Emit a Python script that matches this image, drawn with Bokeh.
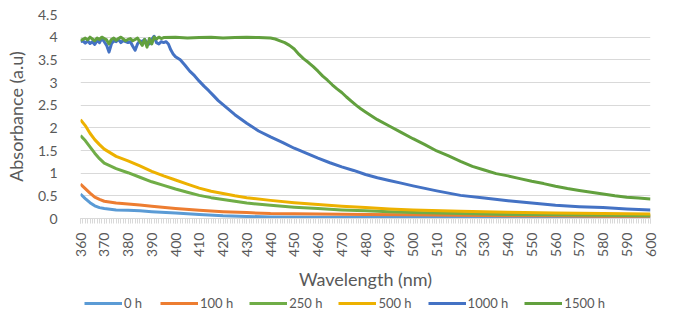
import math
from bokeh.plotting import figure
from bokeh.layouts import column
from bokeh.models import Range1d, FixedTicker, Legend, LegendItem, CustomJSTickFormatter
from bokeh.embed import file_html
from bokeh.resources import INLINE

# ---------------- data ----------------
wl_0h = [360, 362, 364, 366, 368, 370, 375, 380, 385, 390, 400, 410, 420, 430, 440,
         460, 480, 500, 520, 540, 560, 580, 600]
abs_0h = [0.54, 0.44, 0.35, 0.28, 0.24, 0.22, 0.19, 0.18, 0.17, 0.15, 0.12, 0.09, 0.06, 0.045, 0.035,
          0.03, 0.025, 0.02, 0.02, 0.015, 0.015, 0.01, 0.01]

wl_100h = [360, 362, 364, 366, 368, 370, 375, 380, 385, 390, 400, 410, 420, 430, 440,
           460, 480, 500, 520, 540, 560, 580, 600]
abs_100h = [0.76, 0.66, 0.56, 0.47, 0.42, 0.38, 0.34, 0.32, 0.30, 0.27, 0.22, 0.18, 0.15, 0.13, 0.11,
            0.10, 0.09, 0.08, 0.07, 0.06, 0.06, 0.05, 0.05]

wl_250h = [360, 362, 364, 366, 368, 370, 375, 380, 385, 390, 395, 400, 405, 410, 415, 420, 425, 430,
           440, 450, 460, 470, 480, 490, 500, 520, 540, 560, 580, 600]
abs_250h = [1.83, 1.72, 1.58, 1.44, 1.32, 1.22, 1.10, 1.01, 0.91, 0.81, 0.73, 0.65, 0.58, 0.51, 0.46,
            0.42, 0.38, 0.34, 0.29, 0.25, 0.22, 0.19, 0.17, 0.15, 0.13, 0.11, 0.09, 0.08, 0.07, 0.06]

wl_500h = [360, 362, 364, 366, 368, 370, 375, 380, 385, 390, 395, 400, 405, 410, 415, 420, 425, 430,
           440, 450, 460, 470, 480, 490, 500, 520, 540, 560, 580, 600]
abs_500h = [2.18, 2.05, 1.88, 1.74, 1.63, 1.53, 1.37, 1.27, 1.16, 1.04, 0.94, 0.85, 0.76, 0.67, 0.60,
            0.55, 0.50, 0.46, 0.40, 0.35, 0.31, 0.27, 0.24, 0.21, 0.19, 0.16, 0.14, 0.12, 0.11, 0.10]

wl_1000h = list(range(360, 400)) + [400, 402, 404, 406, 408, 410, 412, 414, 416, 418, 420, 425, 430,
                                    435, 440, 445, 450, 455, 460, 465, 470, 475, 480, 485, 490, 495,
                                    500, 510, 520, 530, 540, 550, 560, 570, 580, 590, 600]
abs_1000h = [3.90, 3.92, 3.87, 3.92, 3.86, 3.90, 3.84, 3.93, 3.88, 3.97,
             3.90, 3.82, 3.67, 3.85, 3.92, 3.90, 3.95, 3.88, 3.93, 3.90,
             3.88, 3.90, 3.80, 3.71, 3.85, 3.92, 3.90, 3.95, 3.88, 3.85,
             3.95, 4.02, 3.88, 3.85, 3.90, 3.88, 3.90, 3.85, 3.72, 3.63,
             3.57, 3.50, 3.38, 3.25, 3.15, 3.03, 2.92, 2.82, 2.71, 2.60, 2.51, 2.29, 2.10,
             1.93, 1.80, 1.68, 1.55, 1.44, 1.33, 1.23, 1.14, 1.06, 0.97, 0.90, 0.84, 0.78,
             0.72, 0.61, 0.51, 0.45, 0.39, 0.34, 0.29, 0.26, 0.24, 0.21, 0.19]

wl_1500h = list(range(360, 396)) + [400, 405, 410, 415, 420, 425, 430, 435, 440, 442, 444, 446, 448,
                                    450, 452, 454, 456, 458, 460, 462, 464, 466, 468, 470, 472, 474,
                                    476, 478, 480, 485, 490, 495, 500, 505, 510, 515, 520, 525, 530,
                                    535, 540, 545, 550, 555, 560, 565, 570, 575, 580, 585, 590, 595, 600]
abs_1500h = [3.93, 3.95, 3.98, 3.94, 4.00, 3.96, 3.92, 3.98, 3.95, 4.00,
             3.97, 3.94, 3.85, 3.95, 3.98, 3.93, 3.97, 4.00, 3.96, 3.92,
             3.95, 3.97, 3.92, 3.95, 3.98, 3.90, 3.82, 3.95, 3.78, 3.97,
             3.85, 4.00, 3.96, 4.00, 3.97, 3.99,
             4.00, 3.98, 3.99, 4.00, 3.98, 3.99, 4.00, 3.99, 3.98, 3.96, 3.92, 3.88, 3.82,
             3.74, 3.62, 3.52, 3.44, 3.35, 3.25, 3.14, 3.05, 2.95, 2.86, 2.78, 2.68, 2.59,
             2.50, 2.42, 2.35, 2.18, 2.04, 1.90, 1.76, 1.63, 1.49, 1.38, 1.26, 1.15, 1.07,
             0.99, 0.94, 0.88, 0.82, 0.77, 0.71, 0.66, 0.62, 0.58, 0.54, 0.50, 0.47, 0.45, 0.43]

series_names = ["0 h", "100 h", "250 h", "500 h", "1000 h", "1500 h"]
series_x = [wl_0h, wl_100h, wl_250h, wl_500h, wl_1000h, wl_1500h]
series_y = [abs_0h, abs_100h, abs_250h, abs_500h, abs_1000h, abs_1500h]
series_colors = ["#5B9BD5", "#ED7D31", "#70AD47", "#EDB100", "#4472C4", "#62A03E"]

x_major_ticks = list(range(360, 601, 10))
x_minor_ticks = list(range(360, 601, 1))
y_ticks = [0, 0.5, 1, 1.5, 2, 2.5, 3, 3.5, 4, 4.5]

FONT = "Lato"
TXT = "#595959"
GRID = "#D9D9D9"

p = figure(width=659, height=292, output_backend="svg", toolbar_location=None,
           x_range=Range1d(360, 600), y_range=Range1d(0, 4.5),
           min_border_left=80, min_border_right=9, min_border_top=14, min_border_bottom=68)
p.outline_line_color = None
p.background_fill_color = "white"

for xs, ys, c in zip(series_x, series_y, series_colors):
    p.line(xs, ys, line_color=c, line_width=3, line_join="round")

# x axis
xa = p.xaxis[0]
xa.ticker = FixedTicker(ticks=x_major_ticks, minor_ticks=x_minor_ticks)
xa.axis_line_color = GRID
xa.major_tick_line_color = GRID
xa.minor_tick_line_color = GRID
xa.major_tick_in = 0
xa.minor_tick_in = 0
xa.major_tick_out = 5
xa.minor_tick_out = 5
xa.major_label_orientation = math.pi / 2
xa.major_label_standoff = 9
xa.major_label_text_font = FONT
xa.major_label_text_font_size = "14px"
xa.major_label_text_color = TXT
xa.axis_label = "Wavelength (nm)"
xa.axis_label_text_font = FONT
xa.axis_label_text_font_size = "18px"
xa.axis_label_text_font_style = "normal"
xa.axis_label_text_color = TXT
xa.axis_label_standoff = 8

# y axis
ya = p.yaxis[0]
ya.ticker = FixedTicker(ticks=y_ticks)
ya.formatter = CustomJSTickFormatter(code="return String(Math.round(tick*10)/10);")
ya.axis_line_color = None
ya.major_tick_line_color = None
ya.minor_tick_line_color = None
ya.major_label_standoff = 17
ya.major_label_text_font = FONT
ya.major_label_text_font_size = "14px"
ya.major_label_text_color = TXT
ya.axis_label = "Absorbance (a.u)"
ya.axis_label_text_font = FONT
ya.axis_label_text_font_size = "18px"
ya.axis_label_text_font_style = "normal"
ya.axis_label_text_color = TXT
ya.axis_label_standoff = 8

p.xgrid.grid_line_color = None
p.ygrid.grid_line_color = GRID
p.ygrid.grid_line_width = 1
p.ygrid.ticker = FixedTicker(ticks=y_ticks)

# legend strip: a small figure below the chart; its renderers reuse the series
# data, which lies outside this strip's ranges, so only the legend is visible
pl = figure(width=659, height=21, output_backend="svg", toolbar_location=None,
            x_range=Range1d(0, 1), y_range=Range1d(-10, -9),
            x_axis_location=None, y_axis_location=None,
            min_border_left=0, min_border_right=0, min_border_top=0, min_border_bottom=0)
pl.outline_line_color = None
pl.xgrid.visible = False
pl.ygrid.visible = False
leg_renderers = [pl.line(xs, ys, line_color=c, line_width=3)
                 for xs, ys, c in zip(series_x, series_y, series_colors)]
legend = Legend(items=[LegendItem(label=n, renderers=[r]) for n, r in zip(series_names, leg_renderers)],
                orientation="horizontal", location=(4, 2),
                glyph_width=38, glyph_height=12, label_standoff=2, spacing=16,
                padding=0, margin=0,
                label_text_font=FONT, label_text_font_size="13px", label_text_color=TXT,
                border_line_color=None, background_fill_alpha=0)
pl.add_layout(legend, "center")

layout = column(p, pl, spacing=0)
open("out.html", "w").write(file_html(layout, INLINE))
